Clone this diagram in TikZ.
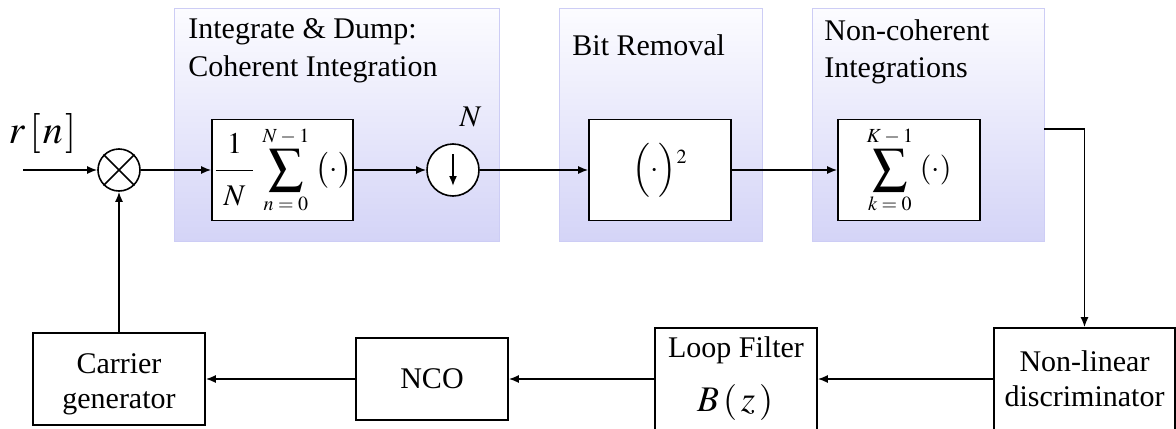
\documentclass[tikz,border=0pt]{standalone}
\usepackage{mathptmx}
\usepackage{graphicx}
\usepackage{fontspec}
\setmainfont{Liberation Serif}
\usetikzlibrary{arrows.meta}
\DeclareMathSizes{15}{15}{10}{7}
\definecolor{ztop}{RGB}{252,252,255}
\definecolor{zbot}{RGB}{212,212,247}
\definecolor{zline}{RGB}{205,205,245}
% enlarged summation sign with limits above and below
\newcommand{\Sumbig}{\mathop{\vcenter{\hbox{\scalebox{1.15}{$\displaystyle\sum$}}}}\limits}
% operators inside limits, spaced out
\newcommand{\lminus}{\mkern3mu-\mkern3mu}
\newcommand{\leqsign}{\mkern4mu=\mkern4mu}
\begin{document}
\begin{tikzpicture}[x=0.5pt,y=-0.5pt,
  zone/.style={draw=zline, line width=0.5pt, top color=ztop, bottom color=zbot, inner sep=0pt},
  blk/.style={draw, fill=white, line width=0.8pt, inner sep=0pt, font=\fontsize{15}{18}\selectfont},
  txt/.style={inner sep=0pt, font=\fontsize{15}{18}\selectfont},
  wire/.style={line width=0.8pt},
  arr/.style={wire, -{Latex[length=5pt,width=4pt]}},
]
\useasboundingbox (0,0) rectangle (1176,428);
\clip (0,0) rectangle (1176,428);

% processing stages (shaded panels)
\node[zone, minimum width=162.5pt, minimum height=116.5pt] (coh) at (336.5,124.5) {};
\node[zone, minimum width=101.5pt, minimum height=116.5pt] (bit) at (660.5,124.5) {};
\node[zone, minimum width=116pt, minimum height=116.5pt] (ncoh) at (928,124.5) {};

% panel titles
\node[txt, anchor=north west, align=left, font=\fontsize{15}{19}\selectfont] (cohT) at (188,18.5) {Integrate \& Dump:\\Coherent Integration};
\node[txt, anchor=base west] (bitT) at (572,55) {Bit Removal};
\node[txt, anchor=north west, align=left, font=\fontsize{15}{18.5}\selectfont] (ncohT) at (824,19.5) {Non-coherent\\Integrations};

% forward path
\node[txt, font=\fontsize{20}{24}\selectfont] (rn) at (42.5,133) {$r\mkern2mu[\mkern1mu n\mkern1mu]$};
\coordinate (in) at (23,170);
\node[blk, circle, minimum size=21pt] (mix) at (119,170) {};
\draw[wire] (mix.north west) -- (mix.south east) (mix.north east) -- (mix.south west);
\node[blk, minimum width=70.5pt, minimum height=50.5pt] (sumN) at (282.5,170)
  {$\displaystyle\frac{1\rule[-6.5pt]{0pt}{0pt}}{\hspace{4pt}\rule{0pt}{15.5pt}N\hspace{4pt}}\,
    \Sumbig_{\rule{0pt}{7pt}n\leqsign 0}^{N\lminus 1\rule[-1.5pt]{0pt}{0pt}}\;\bigl(\cdot\bigr)$};
\node[blk, circle, minimum size=26pt] (down) at (453,170) {};
\draw[arr] ([yshift=8pt]down.center) -- ([yshift=-8pt]down.center);
\node[txt] (dec) at (470.5,117) {$N$};
\node[blk, minimum width=71pt, minimum height=50.5pt] (sq) at (660,170)
  {$\Bigl(\cdot\Bigr)^{\raisebox{-6.5pt}{$\scriptstyle 2$}}$};
\node[blk, minimum width=71pt, minimum height=50.5pt] (sumK) at (909,170)
  {$\displaystyle\Sumbig_{\rule{0pt}{7pt}k\leqsign 0}^{K\lminus 1\rule[-1.5pt]{0pt}{0pt}}\;(\cdot)$};
\coordinate (ncout) at (1044,129);

% feedback path
\node[blk, minimum width=86pt, minimum height=46pt] (carrier) at (119,379) {};
\node[txt, align=center, font=\fontsize{15}{17.5}\selectfont] (carrierT) at (119,384) {Carrier\\generator};
\node[blk, minimum width=76pt, minimum height=41pt] (nco) at (432,379) {NCO};
\node[blk, minimum width=81pt, minimum height=51pt] (lf) at (736,379) {};
\node[txt, anchor=base] (lfT) at (736,357.5) {Loop Filter};
\node[txt, anchor=base, font=\fontsize{18}{20}\selectfont] (lfB) at (735,411.5) {$B\,(\,z\,)$};
\node[blk, minimum width=90.5pt, minimum height=51pt] (disc) at (1084.5,379) {};
\node[txt, align=center, font=\fontsize{15}{17.25}\selectfont] (discT) at (1084.5,378.5) {Non-linear\\discriminator};

% connectors
\draw[arr] (in) -- (mix.west);
\draw[arr] (mix.east) -- (sumN.west);
\draw[arr] (sumN.east) -- (down.west);
\draw[arr] (down.east) -- (sq.west);
\draw[arr] (sq.east) -- (sumK.west);
\draw[arr] (ncout) -| (disc.north);
\draw[arr] (disc.west) -- (lf.east);
\draw[arr] (lf.west) -- (nco.east);
\draw[arr] (nco.west) -- (carrier.east);
\draw[arr] (carrier.north) -- (mix.south);
\end{tikzpicture}
\end{document}
